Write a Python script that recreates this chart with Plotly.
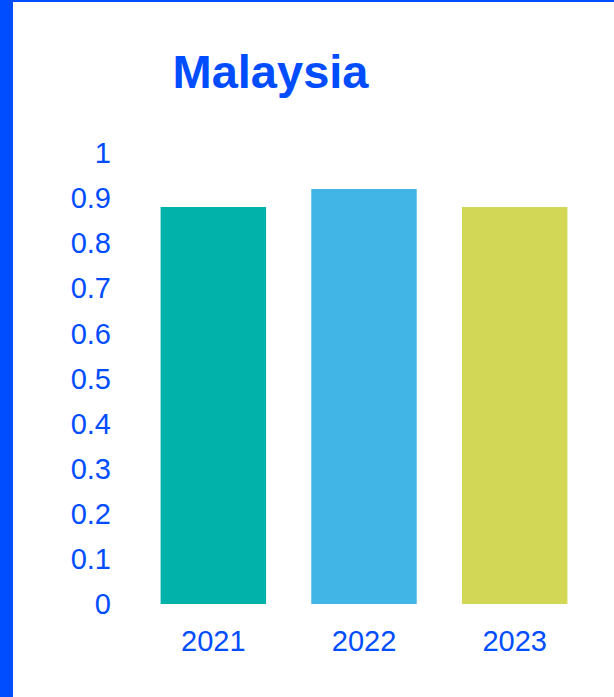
import plotly.graph_objects as go

years = ["2021", "2022", "2023"]
values = [0.88, 0.92, 0.88]
bar_colors = ["#00B2A9", "#41B6E6", "#D2D755"]
title_text = "Malaysia"
ytick_vals = [0, 0.1, 0.2, 0.3, 0.4, 0.5, 0.6, 0.7, 0.8, 0.9, 1]
ytick_text = ["0", "0.1", "0.2", "0.3", "0.4", "0.5", "0.6", "0.7", "0.8", "0.9", "1"]

BLUE = "#004DFF"
FONT = "Liberation Sans, Arial, sans-serif"

W, H = 614, 697
ML, MR, MT, MB = 138, 24, 153, 93
PW, PH = W - ML - MR, H - MT - MB

def px_x(p):
    return (p - ML) / PW

def px_y(p):
    return (H - MB - p) / PH

fig = go.Figure(go.Bar(x=years, y=values, marker=dict(color=bar_colors, line=dict(width=0)),
                       hoverinfo="skip"))

fig.update_layout(
    width=W, height=H,
    margin=dict(l=ML, r=MR, t=MT, b=MB, pad=0),
    paper_bgcolor="white", plot_bgcolor="white",
    bargap=0.30,
    showlegend=False,
    font=dict(family=FONT, color=BLUE),
    title=dict(text="<b>" + title_text + "</b>", x=270.5 / W, xanchor="center",
               y=1 - 72 / H, yanchor="middle",
               font=dict(size=47, color=BLUE, family=FONT)),
    xaxis=dict(showgrid=False, zeroline=False, showline=False, ticks="",
               tickfont=dict(size=29, color=BLUE), ticklabelstandoff=17),
    yaxis=dict(range=[0, 1], showgrid=False, zeroline=False, showline=False, ticks="",
               tickvals=ytick_vals, ticktext=ytick_text,
               tickfont=dict(size=29, color=BLUE), ticklabelstandoff=26),
    shapes=[
        dict(type="rect", xref="paper", yref="paper", x0=px_x(0), x1=px_x(13),
             y0=px_y(H), y1=px_y(0), fillcolor=BLUE, line=dict(width=0), layer="above"),
        dict(type="rect", xref="paper", yref="paper", x0=px_x(0), x1=px_x(W),
             y0=px_y(2), y1=px_y(0), fillcolor=BLUE, line=dict(width=0), layer="above"),
    ],
)

fig.write_html("out.html", config={"displayModeBar": False},
               post_script="document.body.style.margin='0';")
